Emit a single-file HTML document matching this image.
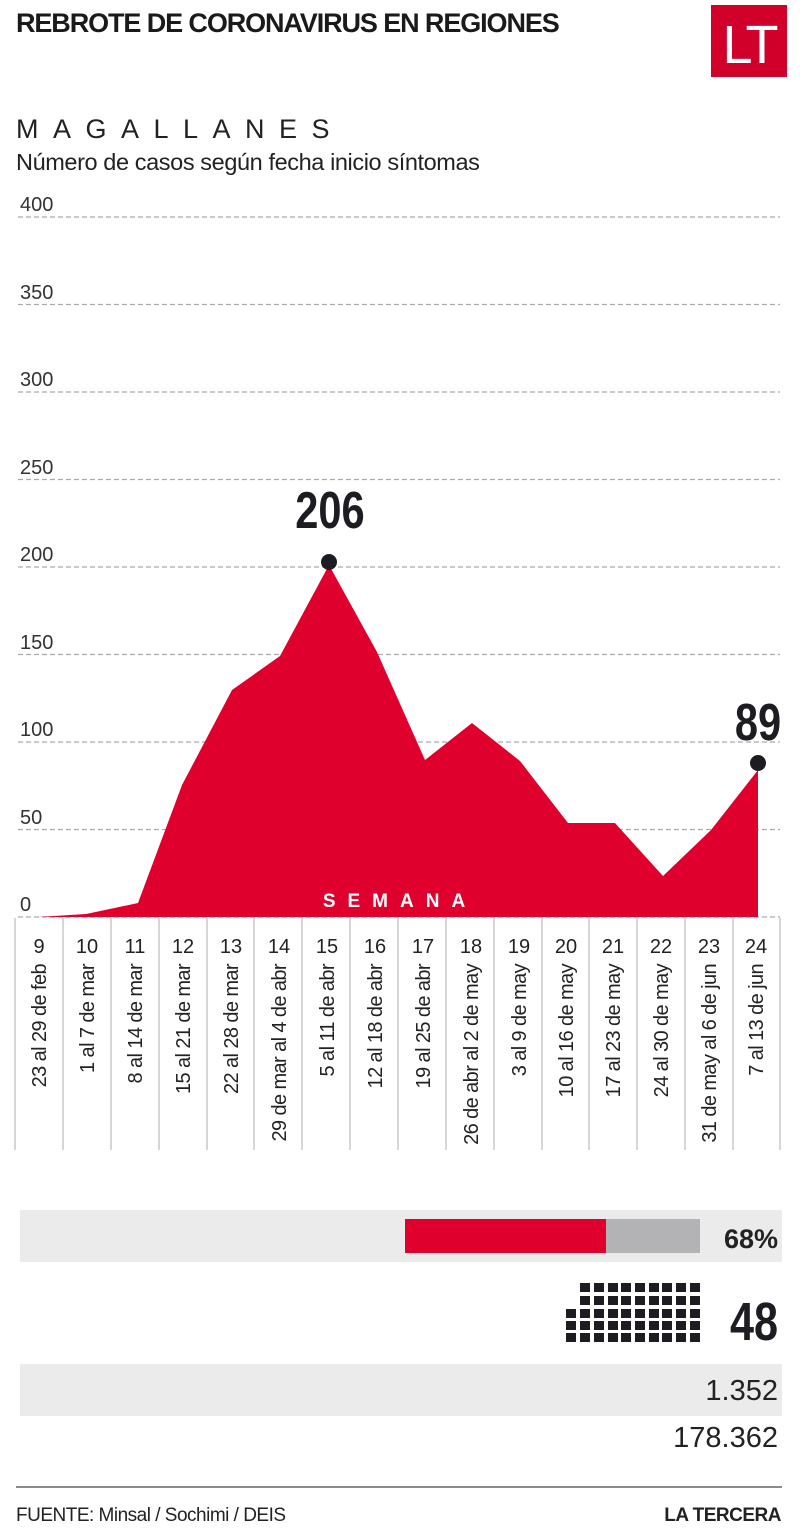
<!DOCTYPE html>
<html><head><meta charset="utf-8"><style>
html,body{margin:0;padding:0;background:#fff}
svg{display:block}
text{font-family:"Liberation Sans",sans-serif}
</style></head><body>
<svg width="800" height="1530" viewBox="0 0 800 1530" xmlns="http://www.w3.org/2000/svg">
<text x="16" y="32" font-size="27" font-weight="bold" fill="#1a1a1a" letter-spacing="-1.1">REBROTE DE CORONAVIRUS EN REGIONES</text>
<rect x="711" y="5" width="76" height="72" fill="#d0002a"/>
<text x="749" y="63" font-size="54" fill="#fff" text-anchor="middle" letter-spacing="-3">LT</text>
<text x="16" y="138" font-size="27" fill="#222" letter-spacing="14.5">MAGALLANES</text>
<text x="16" y="170" font-size="23.5" fill="#222" letter-spacing="-0.4">Número de casos según fecha inicio síntomas</text>
<g stroke="#aaa" stroke-width="1.2" stroke-dasharray="5,3">
<line x1="18" x2="780" y1="217" y2="217"/><line x1="18" x2="780" y1="304.5" y2="304.5"/>
<line x1="18" x2="780" y1="392" y2="392"/><line x1="18" x2="780" y1="479.5" y2="479.5"/>
<line x1="18" x2="780" y1="567" y2="567"/><line x1="18" x2="780" y1="654.5" y2="654.5"/>
<line x1="18" x2="780" y1="742" y2="742"/><line x1="18" x2="780" y1="829.5" y2="829.5"/>
<line x1="18" x2="780" y1="917" y2="917"/>
</g>
<g font-size="20" fill="#333">
<text x="20" y="211">400</text><text x="20" y="299">350</text><text x="20" y="386">300</text>
<text x="20" y="474">250</text><text x="20" y="561">200</text><text x="20" y="649">150</text>
<text x="20" y="736">100</text><text x="20" y="824">50</text><text x="20" y="911">0</text>
</g>
<path d="M38,917 L86,914 L138,903 L182,785 L232,690 L280,656 L329,565 L377,652 L425,760 L472,723 L520,761 L568,823 L615,823 L663,876 L711,830 L758,770 L758,917 Z" fill="#e0002d"/>
<text x="400" y="907" font-size="19" font-weight="bold" fill="#fff" text-anchor="middle" letter-spacing="12">SEMANA</text>
<circle cx="329" cy="562" r="8" fill="#1c1c22"/>
<circle cx="758" cy="763" r="8" fill="#1c1c22"/>
<text x="330" y="528" font-size="52" font-weight="bold" fill="#1c1c22" text-anchor="middle" transform="translate(330 528) scale(0.8 1) translate(-330 -528)">206</text>
<text x="758" y="740" font-size="52" font-weight="bold" fill="#1c1c22" text-anchor="middle" transform="translate(758 740) scale(0.8 1) translate(-758 -740)">89</text>
<g stroke="#bbb" stroke-width="1.2">
<line x1="15" x2="15" y1="918" y2="1150"/><line x1="63" x2="63" y1="918" y2="1150"/><line x1="111" x2="111" y1="918" y2="1150"/>
<line x1="159" x2="159" y1="918" y2="1150"/><line x1="207" x2="207" y1="918" y2="1150"/><line x1="254" x2="254" y1="918" y2="1150"/>
<line x1="302" x2="302" y1="918" y2="1150"/><line x1="350" x2="350" y1="918" y2="1150"/><line x1="398" x2="398" y1="918" y2="1150"/>
<line x1="446" x2="446" y1="918" y2="1150"/><line x1="494" x2="494" y1="918" y2="1150"/><line x1="542" x2="542" y1="918" y2="1150"/>
<line x1="589" x2="589" y1="918" y2="1150"/><line x1="637" x2="637" y1="918" y2="1150"/><line x1="685" x2="685" y1="918" y2="1150"/>
<line x1="733" x2="733" y1="918" y2="1150"/><line x1="780" x2="780" y1="918" y2="1150"/>
</g>
<g font-size="20" fill="#222" text-anchor="middle">
<text x="39" y="953">9</text><text x="87" y="953">10</text><text x="135" y="953">11</text><text x="183" y="953">12</text>
<text x="231" y="953">13</text><text x="279" y="953">14</text><text x="327" y="953">15</text><text x="375" y="953">16</text>
<text x="423" y="953">17</text><text x="471" y="953">18</text><text x="519" y="953">19</text><text x="566" y="953">20</text>
<text x="613" y="953">21</text><text x="661" y="953">22</text><text x="709" y="953">23</text><text x="756" y="953">24</text>
</g>
<g font-size="20" fill="#222" text-anchor="end" letter-spacing="-0.6">
<text transform="translate(46 964) rotate(-90)">23 al 29 de feb</text>
<text transform="translate(94 964) rotate(-90)">1 al 7 de mar</text>
<text transform="translate(142 964) rotate(-90)">8 al 14 de mar</text>
<text transform="translate(190 964) rotate(-90)">15 al 21 de mar</text>
<text transform="translate(238 964) rotate(-90)">22 al 28 de mar</text>
<text transform="translate(286 964) rotate(-90)">29 de mar al 4 de abr</text>
<text transform="translate(334 964) rotate(-90)">5 al 11 de abr</text>
<text transform="translate(382 964) rotate(-90)">12 al 18 de abr</text>
<text transform="translate(430 964) rotate(-90)">19 al 25 de abr</text>
<text transform="translate(478 964) rotate(-90)">26 de abr al 2 de may</text>
<text transform="translate(526 964) rotate(-90)">3 al 9 de may</text>
<text transform="translate(573 964) rotate(-90)">10 al 16 de may</text>
<text transform="translate(620 964) rotate(-90)">17 al 23 de may</text>
<text transform="translate(668 964) rotate(-90)">24 al 30 de may</text>
<text transform="translate(716 964) rotate(-90)">31 de may al 6 de jun</text>
<text transform="translate(763 964) rotate(-90)">7 al 13 de jun</text>
</g>
<rect x="20" y="1210" width="762" height="52" fill="#ebebeb"/>
<rect x="405" y="1219" width="201" height="34" fill="#e0002d"/>
<rect x="606" y="1219" width="94" height="34" fill="#b3b3b5"/>
<text x="778" y="1248" font-size="27" font-weight="bold" fill="#222" text-anchor="end">68%</text>
<g fill="#1c1c22">
<rect x="580" y="1283" width="10" height="9"/><rect x="594" y="1283" width="10" height="9"/><rect x="608" y="1283" width="10" height="9"/><rect x="621" y="1283" width="10" height="9"/><rect x="635" y="1283" width="10" height="9"/><rect x="649" y="1283" width="10" height="9"/><rect x="662" y="1283" width="10" height="9"/><rect x="676" y="1283" width="10" height="9"/><rect x="690" y="1283" width="10" height="9"/>
<rect x="580" y="1296" width="10" height="9"/><rect x="594" y="1296" width="10" height="9"/><rect x="608" y="1296" width="10" height="9"/><rect x="621" y="1296" width="10" height="9"/><rect x="635" y="1296" width="10" height="9"/><rect x="649" y="1296" width="10" height="9"/><rect x="662" y="1296" width="10" height="9"/><rect x="676" y="1296" width="10" height="9"/><rect x="690" y="1296" width="10" height="9"/>
<rect x="566" y="1309" width="10" height="9"/><rect x="580" y="1309" width="10" height="9"/><rect x="594" y="1309" width="10" height="9"/><rect x="608" y="1309" width="10" height="9"/><rect x="621" y="1309" width="10" height="9"/><rect x="635" y="1309" width="10" height="9"/><rect x="649" y="1309" width="10" height="9"/><rect x="662" y="1309" width="10" height="9"/><rect x="676" y="1309" width="10" height="9"/><rect x="690" y="1309" width="10" height="9"/>
<rect x="566" y="1321" width="10" height="9"/><rect x="580" y="1321" width="10" height="9"/><rect x="594" y="1321" width="10" height="9"/><rect x="608" y="1321" width="10" height="9"/><rect x="621" y="1321" width="10" height="9"/><rect x="635" y="1321" width="10" height="9"/><rect x="649" y="1321" width="10" height="9"/><rect x="662" y="1321" width="10" height="9"/><rect x="676" y="1321" width="10" height="9"/><rect x="690" y="1321" width="10" height="9"/>
<rect x="566" y="1333" width="10" height="9"/><rect x="580" y="1333" width="10" height="9"/><rect x="594" y="1333" width="10" height="9"/><rect x="608" y="1333" width="10" height="9"/><rect x="621" y="1333" width="10" height="9"/><rect x="635" y="1333" width="10" height="9"/><rect x="649" y="1333" width="10" height="9"/><rect x="662" y="1333" width="10" height="9"/><rect x="676" y="1333" width="10" height="9"/><rect x="690" y="1333" width="10" height="9"/>
</g>
<text x="778" y="1340" font-size="54" font-weight="bold" fill="#1c1c22" text-anchor="end" transform="translate(778 1340) scale(0.8 1) translate(-778 -1340)">48</text>
<rect x="20" y="1364" width="762" height="52" fill="#ebebeb"/>
<text x="778" y="1400" font-size="29" fill="#222" text-anchor="end">1.352</text>
<text x="778" y="1447" font-size="29" fill="#222" text-anchor="end">178.362</text>
<line x1="16" x2="782" y1="1487" y2="1487" stroke="#444" stroke-width="1.2"/>
<text x="16" y="1521" font-size="19" fill="#222" letter-spacing="-0.5">FUENTE: Minsal / Sochimi / DEIS</text>
<text x="781" y="1521" font-size="19" font-weight="bold" fill="#222" text-anchor="end" letter-spacing="-0.5">LA TERCERA</text>
</svg>
</body></html>
